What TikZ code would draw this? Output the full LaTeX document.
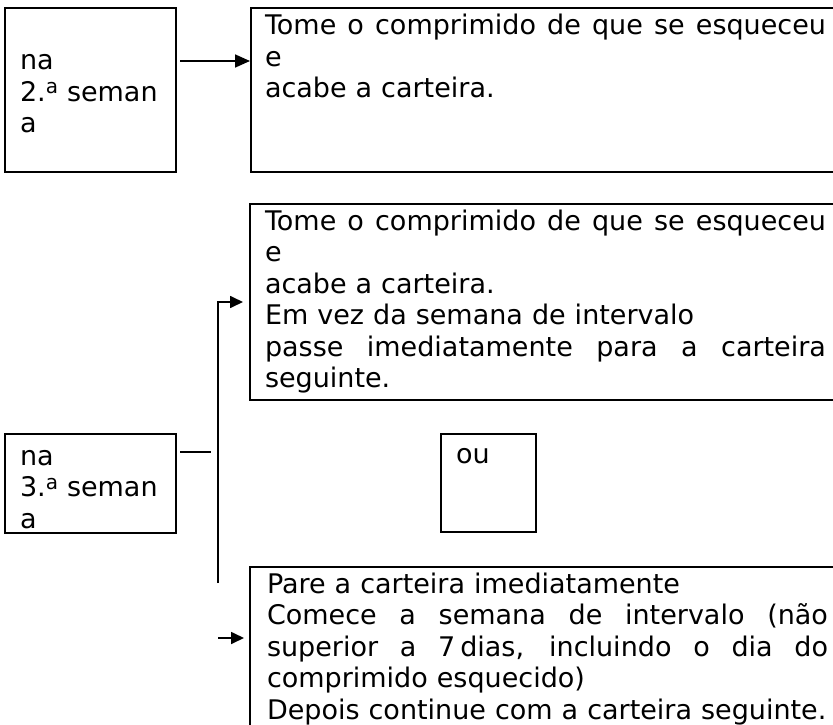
\documentclass[tikz,border=0pt]{standalone}
\usepackage{fontspec}
\setmainfont{DejaVu Sans}
\usetikzlibrary{arrows.meta}
\newcommand\fs{\fontsize{27}{31.5}\selectfont}
\newcommand\tstrut{\rule{0pt}{24pt}}
\newcommand\ord{\raisebox{7.5pt}{\fontsize{20}{20}\selectfont a}}
\newcommand\jline[1]{\makebox[561pt][s]{\spaceskip=8.6pt plus 1fil\relax #1}}
\begin{document}
\begin{tikzpicture}[x=1pt,y=-1pt,
  box/.style={draw, line width=2pt, inner sep=0pt, outer sep=0pt, anchor=north west},
  txt/.style={anchor=north west, inner sep=0pt, outer sep=0pt, align=left, font=\fs},
  conn/.style={line width=1.7pt},
  arr/.style={conn, -{Triangle[length=13pt,width=12pt]}}]
\useasboundingbox (0,0) rectangle (833,725);
\clip (0,0) rectangle (833,725);
\fill[white] (0,0) rectangle (833,725);
% boxes
\node[box, minimum width=171pt, minimum height=164pt] (b1) at (5,8) {};
\node[box, minimum width=600pt, minimum height=164pt] (r1) at (251,8) {};
\node[box, minimum width=600pt, minimum height=196pt] (r2) at (250,204) {};
\node[box, minimum width=171pt, minimum height=99pt] (b2) at (5,434) {};
\node[box, minimum width=95pt, minimum height=98pt] (ou) at (441,434) {};
\node[box, minimum width=600pt, minimum height=200pt] (r3) at (250,567) {};
% texts
\node[txt, text width=150pt] (t1) at (20,70-24) {\tstrut na\\2.\ord{} seman\\a};
\node[txt, text width=570pt] (t2) at (265,35-24) {\tstrut\jline{Tome o comprimido de que se esqueceu}\\e\\acabe a carteira.};
\node[txt, text width=570pt] (t3) at (265,230-24) {\tstrut\jline{Tome o comprimido de que se esqueceu}\\e\\acabe a carteira.\\Em vez da semana de intervalo\\\jline{passe imediatamente para a carteira}\\seguinte.};
\node[txt, text width=150pt] (t4) at (20,465-24) {\tstrut na\\3.\ord{} seman\\a};
\node[txt, text width=70pt] (t5) at (456,463-24) {\tstrut ou};
\node[txt, text width=570pt] (t6) at (267,593-24) {\tstrut Pare a carteira imediatamente\\\jline{Comece a semana de intervalo (não}\\\jline{superior a 7\kern5pt dias, incluindo o dia do}\\comprimido esquecido)\\Depois continue com a carteira seguinte.};
% connectors
\coordinate (a1) at (180,61);
\draw[conn, -{Triangle[length=15pt,width=13pt]}, shorten <=4pt, shorten >=1pt] (b1.east |- a1) -- (r1.west |- a1);
\coordinate (s1) at (211,452);
\draw[conn, shorten <=4pt] (b2.east |- s1) -- (s1);
\coordinate (v1) at (218,302);
\coordinate (v2) at (218,583);
\coordinate (v3) at (218,638);
\draw[arr, shorten >=7pt] (v2) -- (v1) -- (r2.west |- v1);
\draw[arr, shorten >=6pt] (v3) -- (r3.west |- v3);
\end{tikzpicture}
\end{document}
